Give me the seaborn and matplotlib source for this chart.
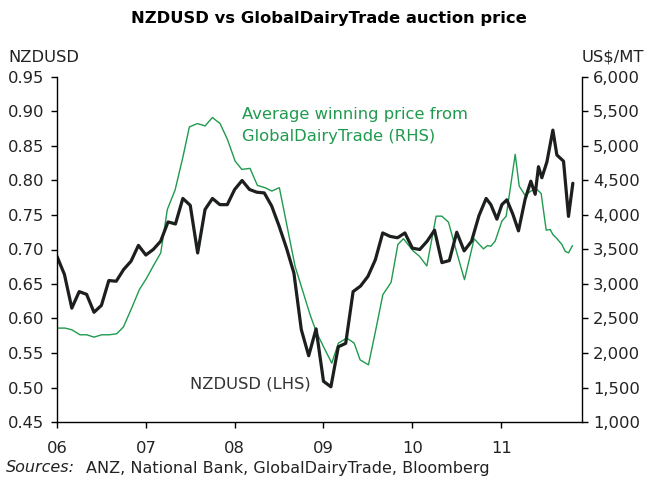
import matplotlib
matplotlib.use("Agg")
import matplotlib.pyplot as plt
import seaborn as sns
import pandas as pd
from matplotlib.ticker import FuncFormatter

# --- data (decimal years) ---
nzd_year = [2006 + k / 12 for k in range(58)] + [
    2010.831, 2010.884, 2010.952, 2011.008, 2011.064, 2011.132, 2011.195,
    2011.270, 2011.334, 2011.383, 2011.420, 2011.458, 2011.515, 2011.582,
    2011.627, 2011.702, 2011.758, 2011.807]
nzd_value = [
    0.690, 0.664, 0.615, 0.639, 0.635, 0.609, 0.619, 0.655, 0.654, 0.671,
    0.683, 0.706, 0.692, 0.700, 0.712, 0.740, 0.737, 0.774, 0.764, 0.695,
    0.758, 0.774, 0.765, 0.765, 0.787, 0.800, 0.787, 0.783, 0.782, 0.763,
    0.734, 0.702, 0.666, 0.584, 0.546, 0.585, 0.509, 0.501, 0.559, 0.564,
    0.639, 0.647, 0.661, 0.685, 0.724, 0.719, 0.717, 0.724, 0.702, 0.700,
    0.712, 0.728, 0.681, 0.684, 0.725, 0.698, 0.712, 0.749,
    0.774, 0.765, 0.744, 0.765, 0.772, 0.751, 0.727, 0.773, 0.799, 0.780,
    0.820, 0.804, 0.827, 0.873, 0.837, 0.828, 0.748, 0.796]

gdt_year = [
    2006.003, 2006.090, 2006.166, 2006.259, 2006.334, 2006.417, 2006.503,
    2006.589, 2006.672, 2006.747, 2006.841, 2006.927, 2007.010, 2007.092,
    2007.168, 2007.242, 2007.329, 2007.416, 2007.490, 2007.580, 2007.667,
    2007.749, 2007.836, 2007.918, 2008.005, 2008.080, 2008.173, 2008.256,
    2008.342, 2008.418, 2008.503, 2008.680, 2008.849, 2008.917, 2008.999,
    2009.093, 2009.168, 2009.262, 2009.345, 2009.412, 2009.506, 2009.581,
    2009.668, 2009.761, 2009.837, 2009.900, 2010.003, 2010.080, 2010.163,
    2010.268, 2010.332, 2010.407, 2010.501, 2010.587, 2010.696, 2010.801,
    2010.846, 2010.884, 2010.932, 2011.008, 2011.056, 2011.101, 2011.158,
    2011.203, 2011.270, 2011.334, 2011.394, 2011.450, 2011.507, 2011.552,
    2011.582, 2011.627, 2011.684, 2011.721, 2011.758, 2011.803]
gdt_value = [
    2361, 2361, 2337, 2264, 2264, 2230, 2264, 2264, 2279, 2376,
    2652, 2918, 3088, 3281, 3451, 4080, 4361, 4832, 5276, 5325,
    5291, 5413, 5325, 5097, 4782, 4661, 4676, 4429, 4396, 4347,
    4396, 3257, 2555, 2312, 2094, 1853, 2144, 2216, 2144, 1901,
    1828, 2289, 2845, 3024, 3572, 3657, 3487, 3402, 3262, 3983,
    3983, 3896, 3451, 3063, 3655, 3509, 3557, 3547, 3620, 3911,
    3983, 4371, 4880, 4419, 4284, 4347, 4381, 4313, 3780, 3790,
    3717, 3659, 3572, 3474, 3451, 3557]

year_ticks = [2006, 2007, 2008, 2009, 2010, 2011]
year_labels = ["06", "07", "08", "09", "10", "11"]

nzd = pd.DataFrame({"year": nzd_year, "value": nzd_value})
gdt = pd.DataFrame({"year": gdt_year, "value": gdt_value})

sns.set_style("white")
plt.rcParams["font.family"] = ["DejaVu Sans"]

BLACK = "#1c1f1e"
GREEN = "#1f9a4e"
FS = 11.8

fig = plt.figure(figsize=(6.46, 4.79), dpi=100)
ax = fig.add_axes([57 / 646, 1 - 422 / 479, (582 - 57) / 646, (422 - 77) / 479])
ax2 = ax.twinx()

sns.lineplot(data=gdt, x="year", y="value", ax=ax2, color=GREEN, lw=1.0,
             estimator=None, sort=False)
sns.lineplot(data=nzd, x="year", y="value", ax=ax, color=BLACK, lw=2.3,
             estimator=None, sort=False)
ax.set_zorder(ax2.get_zorder() + 1)
ax.patch.set_visible(False)

ax.set_xlim(2006, 2011.91)
ax.set_ylim(0.45, 0.95)
ax2.set_ylim(1000, 6000)
ax.set_yticks([0.45 + 0.05 * i for i in range(11)])
ax2.set_yticks([1000 + 500 * i for i in range(11)])
ax.yaxis.set_major_formatter(FuncFormatter(lambda v, p: f"{v:.2f}"))
ax2.yaxis.set_major_formatter(FuncFormatter(lambda v, p: f"{v:,.0f}"))
ax.set_xticks(year_ticks)
ax.set_xticklabels(year_labels)

for a in (ax, ax2):
    a.set_xlabel("")
    a.set_ylabel("")
    a.spines["top"].set_visible(False)
    for s in a.spines.values():
        s.set_color("black")
        s.set_linewidth(1.0)
ax.spines["right"].set_visible(False)
ax2.spines["left"].set_visible(False)
ax2.spines["bottom"].set_visible(False)

ax.tick_params(axis="y", direction="out", length=4, width=1, color="black",
               labelsize=FS, pad=5, left=True)
ax.tick_params(axis="x", direction="out", length=4, width=1, color="black",
               labelsize=FS, pad=10, bottom=True)
ax2.tick_params(axis="y", direction="out", length=4, width=1, color="black",
                labelsize=FS, pad=4, right=True)
for lab in ax.get_yticklabels() + ax.get_xticklabels() + ax2.get_yticklabels():
    lab.set_color("#222222")

fig.text(329 / 646, 1 - 18 / 479, "NZDUSD vs GlobalDairyTrade auction price",
         ha="center", va="center", fontsize=11.8, fontweight="bold", color="black")
fig.text(8 / 646, 1 - 57 / 479, "NZDUSD", ha="left", va="center", fontsize=FS,
         color="#222222")
fig.text(644 / 646, 1 - 57 / 479, "US$/MT", ha="right", va="center", fontsize=FS,
         color="#222222")

fig.text(242 / 646, 1 - 115 / 479, "Average winning price from", ha="left",
         va="center", fontsize=FS, color=GREEN)
fig.text(242 / 646, 1 - 136 / 479, "GlobalDairyTrade (RHS)", ha="left",
         va="center", fontsize=FS, color=GREEN)
fig.text(190 / 646, 1 - 384 / 479, "NZDUSD (LHS)", ha="left", va="center",
         fontsize=FS, color="#333333")

fig.text(6 / 646, 1 - 468 / 479, "Sources:", ha="left", va="center",
         fontsize=11.5, style="italic", color="#222222")
fig.text(86 / 646, 1 - 468 / 479, "ANZ, National Bank, GlobalDairyTrade, Bloomberg",
         ha="left", va="center", fontsize=11.5, color="#222222")

fig.savefig("out.png", dpi=100)
